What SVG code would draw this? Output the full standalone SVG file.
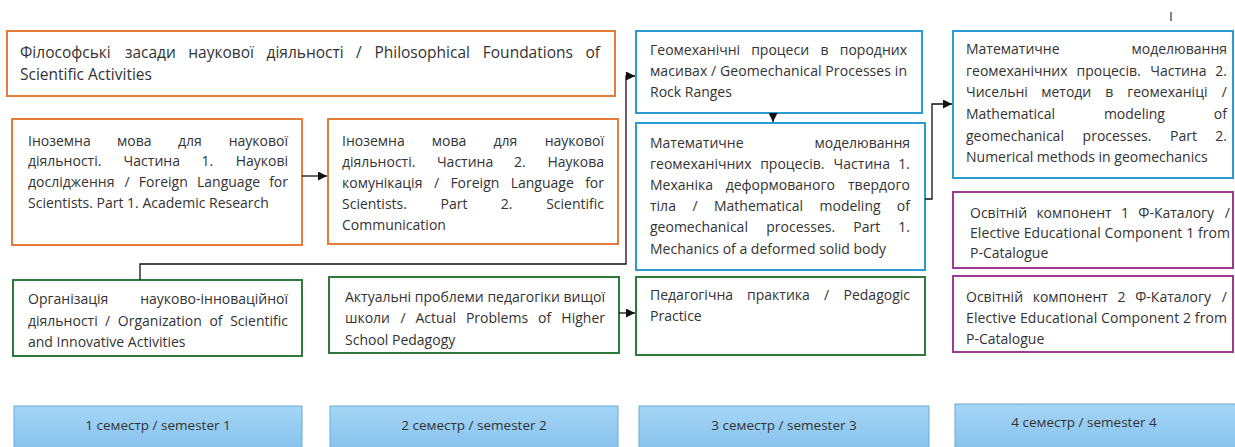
<svg xmlns="http://www.w3.org/2000/svg" width="1235" height="447" viewBox="0 0 1235 447">
<style>
.t{font-family:'Open Sans','Noto Sans','DejaVu Sans',sans-serif;font-size:14px;fill:#333}
.ta{font-size:15.5px}
.e{text-anchor:end}
.bx{fill:#fff;stroke-width:2}
.or{stroke:#E47D3B}
.bl{stroke:#2C9BD1}
.gr{stroke:#2F7A3B}
.pu{stroke:#9C3A96}
.sem{fill:url(#sg);stroke:#6AAAD6;stroke-width:1}
.st{font-family:'Open Sans','Noto Sans',sans-serif;font-size:13.5px;fill:#333;text-anchor:middle}
.cn{fill:none;stroke:#111;stroke-width:1.3}
</style>
<defs>
<linearGradient id="sg" x1="0" y1="0" x2="0" y2="1"><stop offset="0" stop-color="#A5D6F6"/><stop offset="1" stop-color="#86C1EB"/></linearGradient>
<marker id="ar" viewBox="0 0 10 10" refX="10" refY="5" markerWidth="9" markerHeight="9" markerUnits="userSpaceOnUse" orient="auto"><path d="M0,0L10,5L0,10z" fill="#111"/></marker>
</defs>
<rect width="1235" height="447" fill="#fff"/>
<line x1="1171" y1="12" x2="1171" y2="21" stroke="#333" stroke-width="1.2"/>

<g id="nA">
<rect class="bx or" x="7" y="31" width="608" height="65"/>
<text class="t ta" y="58"><tspan x="20">Філософські</tspan><tspan x="124.9">засади</tspan><tspan x="188.3">наукової</tspan><tspan x="266.5">діяльності</tspan><tspan x="356.1">/</tspan><tspan x="374.4">Philosophical</tspan><tspan x="482.8">Foundations</tspan><tspan x="600" class="e">of</tspan></text>
<text class="t ta" x="20" y="80">Scientific Activities</text>
</g>

<g id="nB">
<rect class="bx or" x="12" y="119" width="290" height="126"/>
<text class="t" y="146"><tspan x="28">Іноземна</tspan><tspan x="117">мова</tspan><tspan x="178">для</tspan><tspan x="288" class="e">наукової</tspan></text>
<text class="t" y="166"><tspan x="28">діяльності.</tspan><tspan x="123.6">Частина</tspan><tspan x="201.4">1.</tspan><tspan x="288" class="e">Наукові</tspan></text>
<text class="t" y="187"><tspan x="28">дослідження</tspan><tspan x="124.5">/</tspan><tspan x="138.8">Foreign</tspan><tspan x="197">Language</tspan><tspan x="288" class="e">for</tspan></text>
<text class="t" x="28" y="208">Scientists. Part 1. Academic Research</text>
</g>

<g id="nC">
<rect class="bx or" x="328" y="119" width="290" height="125"/>
<text class="t" y="146"><tspan x="342">Іноземна</tspan><tspan x="431.8">мова</tspan><tspan x="493.5">для</tspan><tspan x="604" class="e">наукової</tspan></text>
<text class="t" y="167"><tspan x="342">діяльності.</tspan><tspan x="436.9">Частина</tspan><tspan x="514">2.</tspan><tspan x="604" class="e">Наукова</tspan></text>
<text class="t" y="188"><tspan x="342">комунікація</tspan><tspan x="434">/</tspan><tspan x="450.4">Foreign</tspan><tspan x="510.7">Language</tspan><tspan x="604" class="e">for</tspan></text>
<text class="t" y="209"><tspan x="342">Scientists.</tspan><tspan x="440.5">Part</tspan><tspan x="500.8">2.</tspan><tspan x="604" class="e">Scientific</tspan></text>
<text class="t" x="342" y="230">Communication</text>
</g>

<g id="nD">
<rect class="bx bl" x="636" y="31" width="286" height="82"/>
<text class="t" y="55"><tspan x="650">Геомеханічні</tspan><tspan x="751.2">процеси</tspan><tspan x="820.6">в</tspan><tspan x="907" class="e">породних</tspan></text>
<text class="t" x="650" y="76" textLength="257" lengthAdjust="spacing">масивах / Geomechanical Processes in</text>
<text class="t" x="650" y="97">Rock Ranges</text>
</g>

<g id="nE">
<rect class="bx bl" x="636" y="123" width="289" height="147"/>
<text class="t" y="148"><tspan x="650">Математичне</tspan><tspan x="910" class="e">моделювання</tspan></text>
<text class="t" y="169"><tspan x="650">геомеханічних</tspan><tspan x="760.2">процесів.</tspan><tspan x="833.6">Частина</tspan><tspan x="910" class="e">1.</tspan></text>
<text class="t" y="190"><tspan x="650">Механіка</tspan><tspan x="725.7">деформованого</tspan><tspan x="910" class="e">твердого</tspan></text>
<text class="t" y="211"><tspan x="650">тіла</tspan><tspan x="692.6">/</tspan><tspan x="714">Mathematical</tspan><tspan x="819.5">modeling</tspan><tspan x="910" class="e">of</tspan></text>
<text class="t" y="232"><tspan x="650">geomechanical</tspan><tspan x="766.3">processes.</tspan><tspan x="853.3">Part</tspan><tspan x="910" class="e">1.</tspan></text>
<text class="t" x="650" y="254">Mechanics of a deformed solid body</text>
</g>

<g id="nF">
<rect class="bx bl" x="953" y="31" width="280" height="147"/>
<text class="t" y="54"><tspan x="966">Математичне</tspan><tspan x="1227" class="e">моделювання</tspan></text>
<text class="t" y="76"><tspan x="966">геомеханічних</tspan><tspan x="1076.5">процесів.</tspan><tspan x="1150.2">Частина</tspan><tspan x="1227" class="e">2.</tspan></text>
<text class="t" y="97"><tspan x="966">Чисельні</tspan><tspan x="1041.2">методи</tspan><tspan x="1105.2">в</tspan><tspan x="1127.2">геомеханіці</tspan><tspan x="1227" class="e">/</tspan></text>
<text class="t" y="119"><tspan x="966">Mathematical</tspan><tspan x="1103.9">modeling</tspan><tspan x="1227" class="e">of</tspan></text>
<text class="t" y="141"><tspan x="966">geomechanical</tspan><tspan x="1082.6">processes.</tspan><tspan x="1170">Part</tspan><tspan x="1227" class="e">2.</tspan></text>
<text class="t" x="966" y="162">Numerical methods in geomechanics</text>
</g>

<g id="nG">
<rect class="bx pu" x="953" y="192" width="280" height="76"/>
<text class="t" y="218"><tspan x="970">Освітній</tspan><tspan x="1036.4">компонент</tspan><tspan x="1120.9">1</tspan><tspan x="1138.3">Ф-Каталогу</tspan><tspan x="1230" class="e">/</tspan></text>
<text class="t" x="970" y="238" textLength="260" lengthAdjust="spacing">Elective Educational Component 1 from</text>
<text class="t" x="970" y="258">P-Catalogue</text>
</g>

<g id="nH">
<rect class="bx gr" x="13" y="280" width="289" height="76"/>
<text class="t" y="304"><tspan x="28">Організація</tspan><tspan x="288" class="e">науково-інноваційної</tspan></text>
<text class="t" y="326"><tspan x="28">діяльності</tspan><tspan x="105.1">/</tspan><tspan x="117.8">Organization</tspan><tspan x="209.4">of</tspan><tspan x="288" class="e">Scientific</tspan></text>
<text class="t" x="28" y="347">and Innovative Activities</text>
</g>

<g id="nI">
<rect class="bx gr" x="329" y="277" width="290" height="76"/>
<text class="t" x="345" y="302" textLength="260" lengthAdjust="spacing">Актуальні проблеми педагогіки вищої</text>
<text class="t" y="323"><tspan x="345">школи</tspan><tspan x="400.4">/</tspan><tspan x="415.5">Actual</tspan><tspan x="465.9">Problems</tspan><tspan x="538.1">of</tspan><tspan x="605" class="e">Higher</tspan></text>
<text class="t" x="345" y="345">School Pedagogy</text>
</g>

<g id="nJ">
<rect class="bx gr" x="636" y="277" width="289" height="78"/>
<text class="t" y="300"><tspan x="650">Педагогічна</tspan><tspan x="747.1">практика</tspan><tspan x="824">/</tspan><tspan x="910" class="e">Pedagogic</tspan></text>
<text class="t" x="650" y="321">Practice</text>
</g>

<g id="nK">
<rect class="bx pu" x="953" y="276" width="280" height="76"/>
<text class="t" y="302"><tspan x="966">Освітній</tspan><tspan x="1032.7">компонент</tspan><tspan x="1117.5">2</tspan><tspan x="1135.2">Ф-Каталогу</tspan><tspan x="1227" class="e">/</tspan></text>
<text class="t" x="966" y="323" textLength="261" lengthAdjust="spacing">Elective Educational Component 2 from</text>
<text class="t" x="966" y="344">P-Catalogue</text>
</g>

<g id="s1"><rect class="sem" x="14" y="406" width="288" height="45"/><text class="st" x="158" y="430">1 семестр / semester 1</text></g>
<g id="s2"><rect class="sem" x="330" y="406" width="288" height="45"/><text class="st" x="474" y="430">2 семестр / semester 2</text></g>
<g id="s3"><rect class="sem" x="639" y="406" width="290" height="45"/><text class="st" x="784" y="430">3 семестр / semester 3</text></g>
<g id="s4"><rect class="sem" x="955" y="404" width="290" height="47"/><text class="st" x="1084" y="427">4 семестр / semester 4</text></g>

<g id="connectors">
<line class="cn" x1="302" y1="176" x2="327" y2="176" marker-end="url(#ar)"/>
<polyline class="cn" points="140,280 140,264 626,264 626,76 635,76" marker-end="url(#ar)"/>
<line class="cn" x1="773" y1="113" x2="773" y2="122" marker-end="url(#ar)"/>
<polyline class="cn" points="925,199 932,199 932,104 952,104" marker-end="url(#ar)"/>
<line class="cn" x1="619" y1="313" x2="635" y2="313" marker-end="url(#ar)"/>
</g>
</svg>
